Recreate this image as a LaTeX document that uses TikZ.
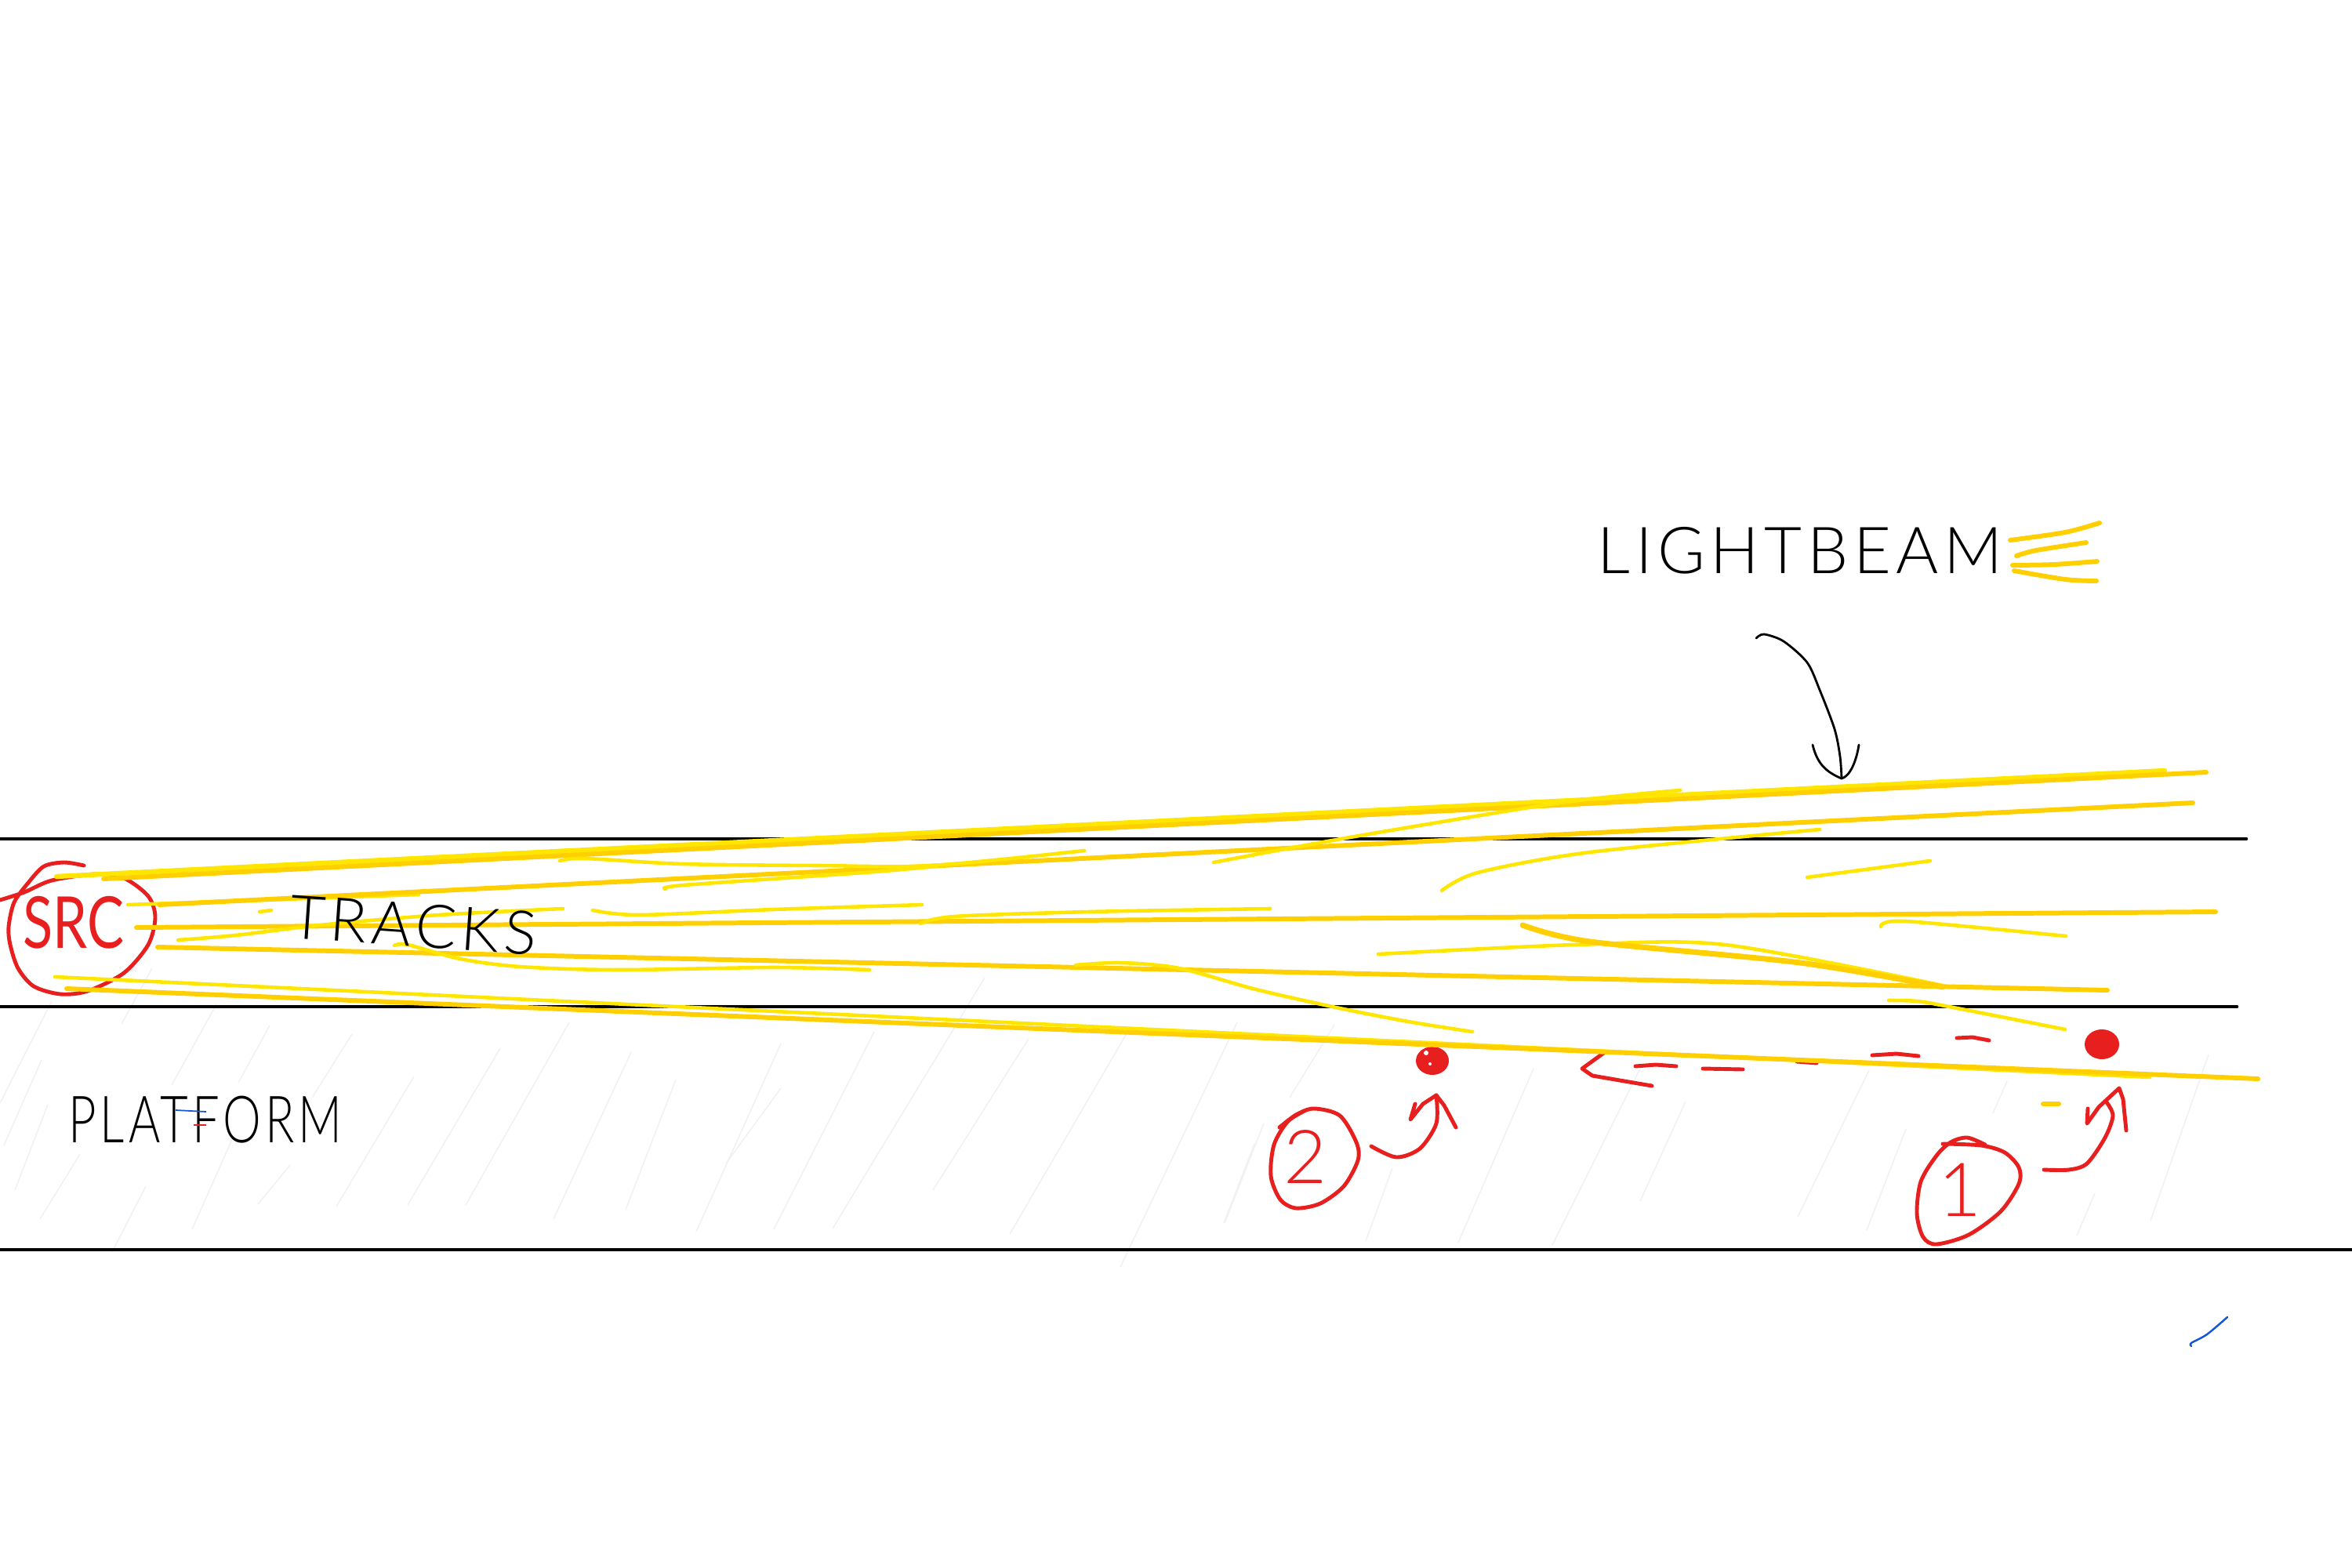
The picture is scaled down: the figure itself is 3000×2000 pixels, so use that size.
\documentclass[tikz,border=0pt]{standalone}
\usepackage{fontspec}
\newfontfamily\handfont[LetterSpace=8]{Lato Light}
\newfontfamily\redhandfont{Lato}
\definecolor{beamdark}{HTML}{FFCF00}
\definecolor{beambright}{HTML}{FFE600}
\definecolor{penred}{HTML}{E81F1F}
\definecolor{penblue}{HTML}{1257D6}
\tikzset{
    hatchline/.style={line width=0.45pt, gray!11},
    railline/.style={line width=1.3pt, black, line cap=round},
    beamthick/.style={line width=1.7pt, beamdark, line cap=round},
    beamthin/.style={line width=1.3pt, beambright, line cap=round},
    redstroke/.style={line width=1.4pt, penred, line cap=round, line join=round},
    inkstroke/.style={line width=0.8pt, black, line cap=round, line join=round},
    handlabel/.style={inner sep=0pt, font=\handfont\fontsize{#1}{#1}\selectfont},
    redlabel/.style={inner sep=0pt, text=penred, font=\redhandfont\fontsize{#1}{#1}\selectfont}
}
\begin{document}
\begin{tikzpicture}[x=0.01cm, y=-0.01cm]
    \useasboundingbox (0,0) rectangle (3000,2000);

    \foreach \xa/\ya/\xb/\yb in {66/1277/0/1407, 194/1235/155/1306, 276/1281/219/1384, 53/1352/5/1461,
        344/1308/304/1381, 61/1409/19/1518, 449/1319/398/1400, 298/1449/245/1568, 186/1513/143/1597,
        370/1486/329/1536, 528/1373/429/1539, 638/1337/520/1537, 726/1304/594/1537, 805/1342/706/1555,
        102/1472/51/1555, 862/1377/798/1543, 996/1331/888/1571, 996/1388/926/1484, 1115/1316/987/1568,
        1256/1247/1062/1567, 1312/1325/1190/1518, 1436/1320/1288/1574, 1578/1304/1429/1616, 1600/1459/1561/1560,
        1702/1307/1645/1400, 1612/1433/1562/1560, 1776/1490/1742/1583, 1956/1363/1860/1585, 2092/1363/1980/1588,
        2150/1405/2092/1532, 2384/1365/2293/1552, 2431/1440/2381/1569, 2560/1379/2542/1420, 2672/1522/2649/1576,
        2817/1345/2743/1557}
        \draw[hatchline] (\xa,\ya) -- (\xb,\yb);

    \draw[railline] (0,1070) -- (2865,1070);
    \draw[railline] (0,1284) -- (2853,1284);
    \draw[railline] (0,1594) -- (3000,1594);

    \draw[redstroke] plot[smooth] coordinates {(0,1148) (31,1138) (66,1123) (122,1115) (158,1120) (189,1143) (198,1170) (189,1205)
        (158,1241) (112,1264) (77,1268) (43,1258) (23,1235) (13,1205) (11,1182) (18,1151) (36,1126) (56,1105) (82,1100) (107,1104)};
    \draw[redstroke] plot[smooth] coordinates {(1632,1438) (1653,1422) (1676,1414) (1709,1423) (1730,1457) (1732,1480) (1714,1513)
        (1684,1535) (1653,1541) (1633,1530) (1621,1500) (1625,1460) (1643,1430) (1668,1415)};
    \draw[redstroke] plot[smooth] coordinates {(2478,1459) (2527,1461) (2557,1470) (2575,1489) (2575,1510) (2552,1545) (2511,1575)
        (2470,1587) (2453,1578) (2445,1548) (2450,1507) (2470,1474) (2488,1457) (2509,1451) (2532,1460)};

    \fill[penred] (1827,1353) ellipse (21 and 18);
    \fill[white] (1824,1357) circle (2);
    \fill[white] (1819,1343) circle (3);
    \fill[penred] (2681,1332) ellipse (22 and 19);

    \draw[redstroke] plot[smooth] coordinates {(1749,1462) (1781,1476) (1811,1465) (1832,1433) (1832,1397)};
    \draw[redstroke] (1805,1408) -- (1799,1428) -- (1815,1408) -- (1832,1397) -- (1842,1410) -- (1857,1438);
    \draw[redstroke] plot[smooth] coordinates {(2607,1492) (2639,1492) (2662,1484) (2685,1451) (2695,1423) (2687,1406)};
    \draw[redstroke] (2663,1414) -- (2662,1433) -- (2677,1412) -- (2703,1388) -- (2708,1402) -- (2712,1442);

    \draw[redstroke] (2047,1342) -- (2018,1363) -- (2031,1372) -- (2107,1385);
    \draw[redstroke] (2086,1360) -- (2112,1358) -- (2138,1360);
    \draw[redstroke] (2172,1363) -- (2223,1364);
    \draw[redstroke] (2292,1354) -- (2317,1356);
    \draw[redstroke] (2388,1346) -- (2419,1344) -- (2447,1347);
    \draw[redstroke] (2496,1324) -- (2516,1323) -- (2537,1327);

    \draw[beamthin, line width=1.8pt] (72,1118) -- (2761,983);
    \draw[beamthick] (132,1121) -- (2814,985);
    \draw[beamthin] (163,1154) -- (534,1141);
    \draw[beamthick] (203,1154) -- (2797,1024);
    \draw[beamthick] (174,1183) -- (2826,1163);
    \draw[beamthick] (201,1208) -- (2688,1263);
    \draw[beamthin] (70,1246) -- (2742,1374);
    \draw[beamthick] (85,1261) -- (2880,1376);

    \draw[beamthin] plot[smooth] coordinates {(227,1199) (300,1193) (408,1180) (560,1167) (718,1159)};
    \draw[beamthin] plot[smooth] coordinates {(714,1098) (746,1095) (872,1102) (1044,1104) (1188,1104) (1383,1085)};
    \draw[beamthin] plot[smooth] coordinates {(849,1134) (872,1129) (1102,1113) (1194,1105)};
    \draw[beamthin] plot[smooth] coordinates {(756,1161) (815,1167) (987,1160) (1176,1154)};
    \draw[beamthin] plot[smooth] coordinates {(1174,1178) (1217,1169) (1389,1163) (1620,1159)};
    \draw[beamthin] plot[smooth] coordinates {(503,1206) (520,1205) (587,1223) (663,1233) (786,1237) (987,1234) (1109,1237)};
    \draw[beamthin] plot[smooth] coordinates {(1372,1231) (1429,1228) (1504,1235) (1602,1262) (1704,1285) (1796,1303) (1878,1316)};
    \draw[beamthin] plot[smooth] coordinates {(1548,1100) (1722,1068) (1990,1024) (2143,1008)};
    \draw[beamthin] plot[smooth] coordinates {(1839,1136) (1885,1113) (2028,1087) (2321,1058)};
    \draw[beamthin] (2305,1119) -- (2462,1098);
    \draw[beamthin] plot[smooth] coordinates {(1758,1217) (2010,1205) (2200,1205) (2478,1257)};
    \draw[beamthick, line width=2pt] plot[smooth] coordinates {(1942,1180) (2028,1201) (2296,1228) (2478,1259)};
    \draw[beamthin] plot[smooth] coordinates {(2399,1182) (2430,1175) (2635,1194)};
    \draw[beamthin] plot[smooth] coordinates {(2409,1276) (2445,1277) (2486,1284) (2634,1313)};
    \draw[beamthin] (331,1163) -- (346,1161);
    \draw[beamthick] (2606,1408) -- (2626,1408);

    \draw[beamthick] plot[smooth] coordinates {(2564,689) (2634,679) (2678,667)};
    \draw[beamthick] plot[smooth] coordinates {(2572,709) (2597,702) (2661,692)};
    \draw[beamthick] plot[smooth] coordinates {(2567,721) (2620,720) (2675,716)};
    \draw[beamthick] plot[smooth] coordinates {(2569,728) (2634,739) (2674,741)};

    \node[handlabel=23.5] (lightbeam) at (2296,702) {LIGHTBEAM};
    \node[handlabel=22, rotate=-4] (tracks) at (528,1180) {TRACKS};
    \node[handlabel=17.5, yscale=1.35, transform shape] (platform) at (262,1428) {PLATFORM};
    \node[redlabel=20, yscale=1.3, transform shape] (source) at (94,1177) {SRC};
    \node[handlabel=27, text=penred] (circledtwo) at (1665,1476) {2};
    \node[handlabel=27, text=penred] (circledone) at (2500,1518) {1};

    \coordinate (pointerstart) at (2240,814);
    \coordinate (pointertip) at (2349,993);
    \draw[inkstroke] plot[smooth] coordinates {(pointerstart) (2250,809) (2275,818) (2305,845) (2321,880) (2340,930) (2347,965) (pointertip)};
    \draw[inkstroke] (2312,950) .. controls (2318,975) and (2330,985) .. (pointertip) .. controls (2360,990) and (2368,970) .. (2371,950);

    \draw[line width=0.5pt, penblue] (224,1416) -- (263,1418);
    \draw[line width=0.5pt, penred] (247,1435) -- (263,1435);
    \draw[line width=0.7pt, penblue, line cap=round] plot[smooth] coordinates {(2841,1680) (2815,1702) (2795,1713) (2795,1717)};
\end{tikzpicture}
\end{document}
